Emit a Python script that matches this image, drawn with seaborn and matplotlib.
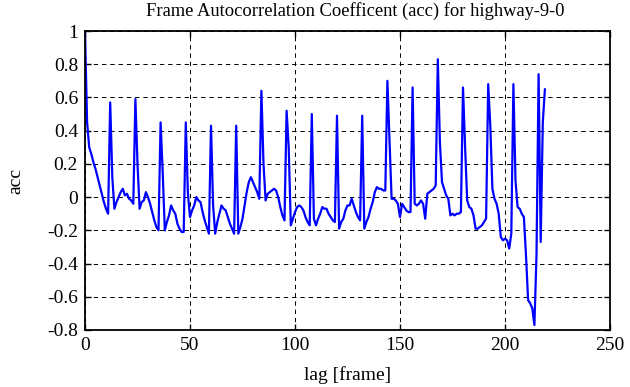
import numpy as np
import pandas as pd
import matplotlib
matplotlib.use("Agg")
import matplotlib.pyplot as plt
import seaborn as sns

# ---- data ----
acc = [
    1.00, 0.45, 0.30, 0.26, 0.21, 0.17, 0.12, 0.07, 0.02, -0.03,   # 0-9
    -0.07, -0.10, 0.57, 0.12, -0.07, -0.03, 0.00, 0.03, 0.05, 0.01,  # 10-19
    0.02, -0.01, -0.02, -0.04, 0.59, 0.20, -0.07, -0.03, -0.02, 0.03,  # 20-29
    0.00, -0.04, -0.09, -0.14, -0.18, -0.20, 0.45, 0.15, -0.20, -0.15,  # 30-39
    -0.11, -0.05, -0.08, -0.10, -0.16, -0.19, -0.21, -0.21, 0.45, 0.02,  # 40-49
    -0.12, -0.08, -0.05, 0.00, -0.02, -0.03, -0.09, -0.14, -0.18, -0.22,  # 50-59
    0.43, -0.05, -0.22, -0.15, -0.10, -0.05, -0.07, -0.08, -0.12, -0.16,  # 60-69
    -0.19, -0.22, 0.43, -0.22, -0.18, -0.13, -0.05, 0.03, 0.09, 0.12,  # 70-79
    0.09, 0.06, 0.03, -0.01, 0.64, 0.20, -0.02, 0.02, 0.03, 0.04,  # 80-89
    0.05, 0.04, 0.00, -0.06, -0.11, -0.14, 0.52, 0.30, -0.17, -0.13,  # 90-99
    -0.09, -0.06, -0.05, -0.06, -0.08, -0.12, -0.15, -0.17, 0.50, -0.13,  # 100-109
    -0.17, -0.13, -0.10, -0.06, -0.07, -0.07, -0.10, -0.12, -0.14, -0.15,  # 110-119
    0.49, -0.19, -0.15, -0.13, -0.08, -0.05, -0.05, -0.01, -0.05, -0.09,  # 120-129
    -0.12, -0.14, 0.49, -0.19, -0.15, -0.12, -0.07, -0.03, 0.03, 0.06,  # 130-139
    0.05, 0.05, 0.04, 0.04, 0.70, 0.35, -0.01, -0.01, -0.02, -0.04,  # 140-149
    -0.12, -0.04, -0.06, -0.08, -0.09, -0.09, 0.66, -0.04, -0.05, -0.04,  # 150-159
    -0.02, -0.04, -0.13, 0.02, 0.03, 0.04, 0.05, 0.07, 0.83, 0.33,  # 160-169
    0.09, 0.05, 0.01, -0.01, -0.11, -0.10, -0.11, -0.10, -0.10, -0.09,  # 170-179
    0.66, 0.30, -0.02, -0.06, -0.07, -0.11, -0.19, -0.19, -0.18, -0.17,  # 180-189
    -0.15, -0.13, 0.68, 0.43, 0.05, -0.01, -0.04, -0.10, -0.24, -0.26,  # 190-199
    -0.25, -0.26, -0.31, -0.22, 0.68, 0.10, -0.06, -0.07, -0.10, -0.12,  # 200-209
    -0.35, -0.62, -0.64, -0.67, -0.77, -0.35, 0.74, -0.27, 0.45, 0.65,  # 210-219
]
lags = list(range(len(acc)))

x_ticks = [0, 50, 100, 150, 200, 250]
y_ticks = [-0.8, -0.6, -0.4, -0.2, 0, 0.2, 0.4, 0.6, 0.8, 1]
y_tick_labels = ["-0.8", "-0.6", "-0.4", "-0.2", "0", "0.2", "0.4", "0.6", "0.8", "1"]
x_tick_labels = ["0", "50", "100", "150", "200", "250"]

title = "Frame Autocorrelation Coefficent (acc) for highway-9-0"
xlabel = "lag [frame]"
ylabel = "acc"

df = pd.DataFrame({"lag": lags, "acc": acc})

sns.set_theme(style="white")
plt.rcParams["font.family"] = ["Liberation Serif", "DejaVu Serif"]
plt.rcParams["axes.edgecolor"] = "black"

fig = plt.figure(figsize=(6.3, 3.87), dpi=100)
ax = fig.add_axes([85 / 630, 1 - 330 / 387, (610 - 85) / 630, (330 - 31) / 387])

sns.lineplot(data=df, x="lag", y="acc", ax=ax, color="#0000ff", linewidth=1.6)

ax.set_xlim(0, 250)
ax.set_ylim(-0.8, 1)
ax.set_xticks(x_ticks)
ax.set_xticklabels(x_tick_labels)
ax.set_yticks(y_ticks)
ax.set_yticklabels(y_tick_labels)

ax.grid(True, color="black", linestyle=(0, (4.5, 4)), linewidth=0.7)
for sp in ax.spines.values():
    sp.set_linewidth(1.3)
    sp.set_color("black")
ax.tick_params(direction="in", length=4, width=1.0, colors="black",
               top=True, right=True, bottom=True, left=True,
               labelsize=14, pad=5)
for lab in ax.get_xticklabels() + ax.get_yticklabels():
    lab.set_color("black")

ax.set_xlabel(xlabel, fontsize=14, color="black", labelpad=9)
ax.set_ylabel(ylabel, fontsize=14, color="black", labelpad=16)
ax.set_title(title, fontsize=13.3, color="black", pad=11, x=0.514)

fig.savefig("out.png", dpi=100)
